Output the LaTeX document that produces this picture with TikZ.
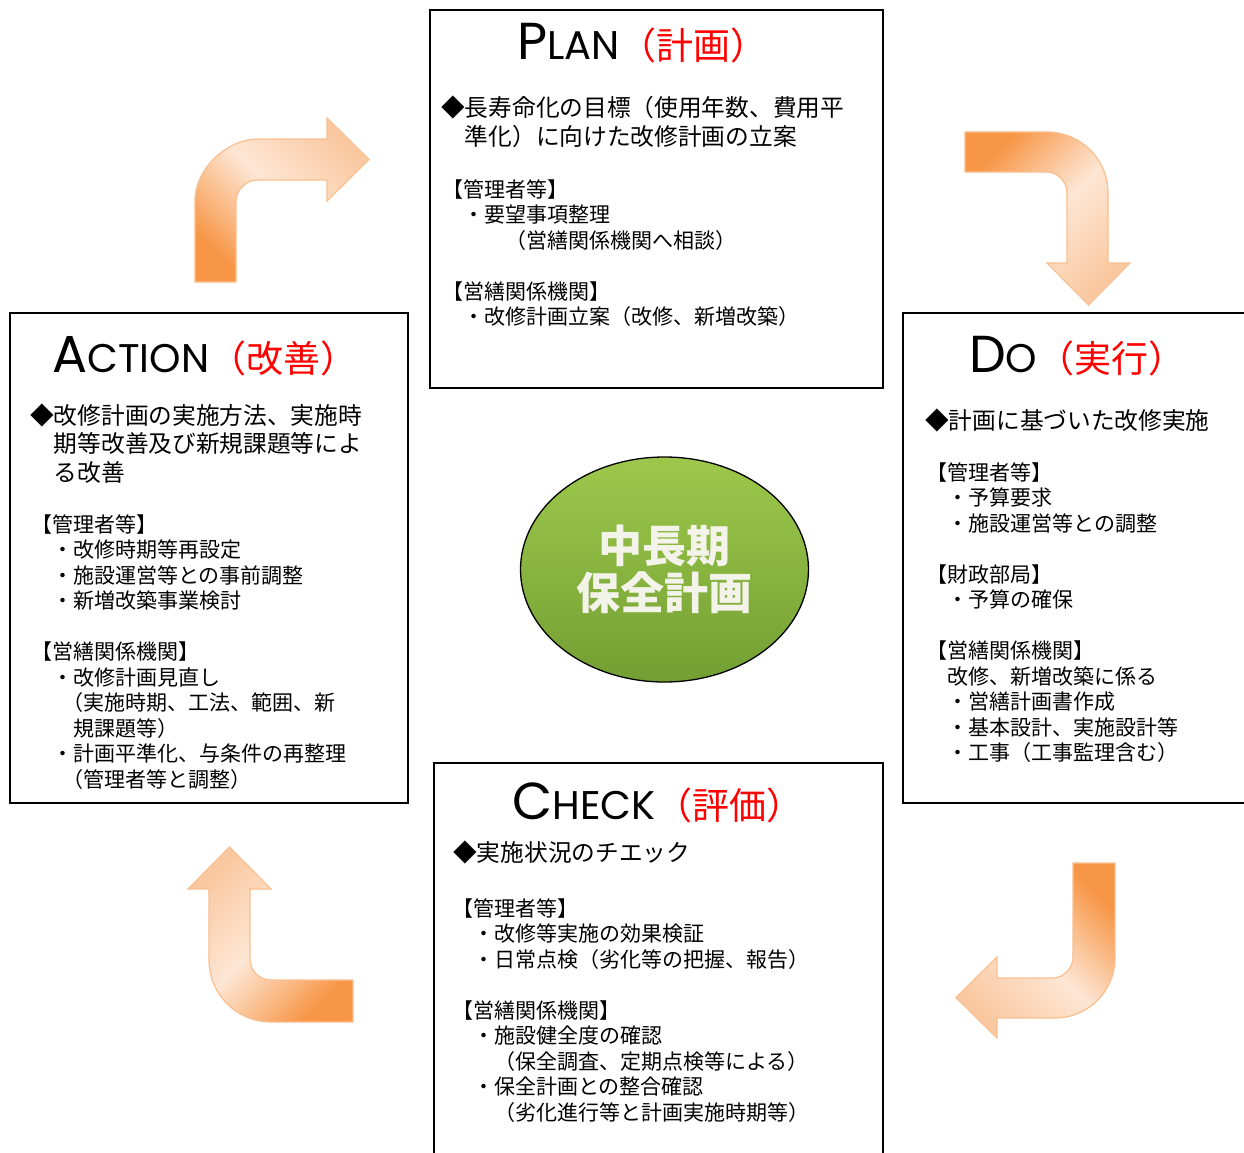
\documentclass[tikz,border=0pt]{standalone}
\usepackage{fontspec}
\setmainfont{Noto Sans CJK JP}
\newfontfamily\titlefont{Poppins}
\usetikzlibrary{shapes.geometric}

\definecolor{arrdark}{HTML}{F79646}
\definecolor{arrmid}{HTML}{FAC8A0}
\definecolor{arrlight}{HTML}{FDE6D4}
\definecolor{arredge}{HTML}{F9BF8F}
\definecolor{hubtop}{HTML}{9DC84C}
\definecolor{hubbot}{HTML}{739F33}
\definecolor{hubtext}{HTML}{F3F3EA}

\newcommand{\capbig}[1]{{\titlefont\fontsize{52}{52}\selectfont #1}}
\newcommand{\capsmall}[1]{{\titlefont\fontsize{40}{40}\selectfont #1}}
\newcommand{\redword}[1]{{\color{red}\fontsize{37}{37}\selectfont （#1）}}

\begin{document}
\begin{tikzpicture}[x=1pt, y=-1pt,
  box/.style={draw, line width=1.8pt},
  bentarrow/.style={draw=arredge, line width=1.2pt, top color=arrmid, bottom color=arrdark, middle color=arrlight},
  title/.style={anchor=base west, inner sep=0},
  lead/.style={anchor=base west, align=left, inner sep=0, font=\fontsize{23.7}{28.5}\selectfont},
  body/.style={anchor=base west, align=left, inner sep=0, font=\fontsize{21}{25.5}\selectfont}]
 \useasboundingbox (0,0) rectangle (1244,1153);

 \draw[box] (430,10) rectangle (883,388);
 \draw[box] (903,313) rectangle (1250,803);
 \draw[box] (10,313) rectangle (408,803);
 \draw[box] (434,763) rectangle (883,1160);

 \path[bentarrow, shading angle=-45] (195,282) -- (195,201) .. controls (195,166.8) and (229.2,139) .. (257,139) -- (327,139) -- (327,118) -- (369,159.5) -- (327,201) -- (327,180) -- (257,180) .. controls (245.4,180) and (236,191.6) .. (236,201) -- (236,282) -- cycle;
 \path[bentarrow, shading angle=-135] (965,132) -- (1047,132) .. controls (1080.7,132) and (1108,159.3) .. (1108,193) -- (1108,263) -- (1130,263) -- (1088.5,305) -- (1047,263) -- (1067,263) -- (1067,193) .. controls (1067,181.4) and (1057.6,172) .. (1046,172) -- (965,172) -- cycle;
 \path[bentarrow, shading angle=135] (1115,863) -- (1115,958) .. controls (1115,991.1) and (1088.1,1018) .. (1055,1018) -- (997,1018) -- (997,1038) -- (956,997.5) -- (997,957) -- (997,978) -- (1053,978) .. controls (1064,978) and (1073,967) .. (1073,958) -- (1073,863) -- cycle;
 \path[bentarrow, shading angle=45] (353,1022) -- (271,1022) .. controls (236.8,1022) and (209,994.2) .. (209,960) -- (209,889) -- (188,889) -- (229.5,847) -- (271,889) -- (250,889) -- (250,959) .. controls (250,970.6) and (259.4,980) .. (271,980) -- (353,980) -- cycle;

 \node (hub) [ellipse, draw, line width=1.3pt, top color=hubtop, bottom color=hubbot, minimum width=288pt, minimum height=225pt, inner sep=0, text=hubtext, align=center, font=\bfseries\fontsize{44}{47}\selectfont] at (664.5,569.5) {中長期\\保全計画};

 \node (plantitle) [title] at (517,60) {\capbig{P}\capsmall{LAN}\redword{計画}};
 \node (planlead) [lead] at (441,145.5) {◆長寿命化の目標（使用年数、費用平\\\hphantom{◆}準化）に向けた改修計画の立案};
 \node (planbody) [body] at (442,324.5) {【管理者等】\\　・要望事項整理\\　　　（営繕関係機関へ相談）\\[25.5pt]【営繕関係機関】\\　・改修計画立案（改修、新増改築）};

 \node (dotitle) [title] at (969,372) {\capbig{D}\capsmall{O}\redword{実行}};
 \node (dolead) [lead] at (925,429) {◆計画に基づいた改修実施};
 \node (dobody) [body] at (926,760.5) {【管理者等】\\　・予算要求\\　・施設運営等との調整\\[25.5pt]【財政部局】\\　・予算の確保\\[25.5pt]【営繕関係機関】\\　改修、新増改築に係る\\　・営繕計画書作成\\　・基本設計、実施設計等\\　・工事（工事監理含む）};

 \node (acttitle) [title] at (52,372) {\capbig{A}\capsmall{CTION}\redword{改善}};
 \node (actlead) [lead] at (30,481) {◆改修計画の実施方法、実施時\\\hphantom{◆}期等改善及び新規課題等によ\\\hphantom{◆}る改善};
 \node (actbody) [body] at (31,787) {【管理者等】\\　・改修時期等再設定\\　・施設運営等との事前調整\\　・新増改築事業検討\\[25.5pt]【営繕関係機関】\\　・改修計画見直し\\\hspace*{1.5em}（実施時期、工法、範囲、新\\　　規課題等）\\　・計画平準化、与条件の再整理\\\hspace*{1.5em}（管理者等と調整）};

 \node (chktitle) [title] at (512,819) {\capbig{C}\capsmall{HECK}\redword{評価}};
 \node (chklead) [lead] at (453,861) {◆実施状況のチエック};
 \node (chkbody) [body] at (452,1120) {【管理者等】\\　・改修等実施の効果検証\\　・日常点検（劣化等の把握、報告）\\[25.5pt]【営繕関係機関】\\　・施設健全度の確認\\　　（保全調査、定期点検等による）\\　・保全計画との整合確認\\　　（劣化進行等と計画実施時期等）};
\end{tikzpicture}
\end{document}
